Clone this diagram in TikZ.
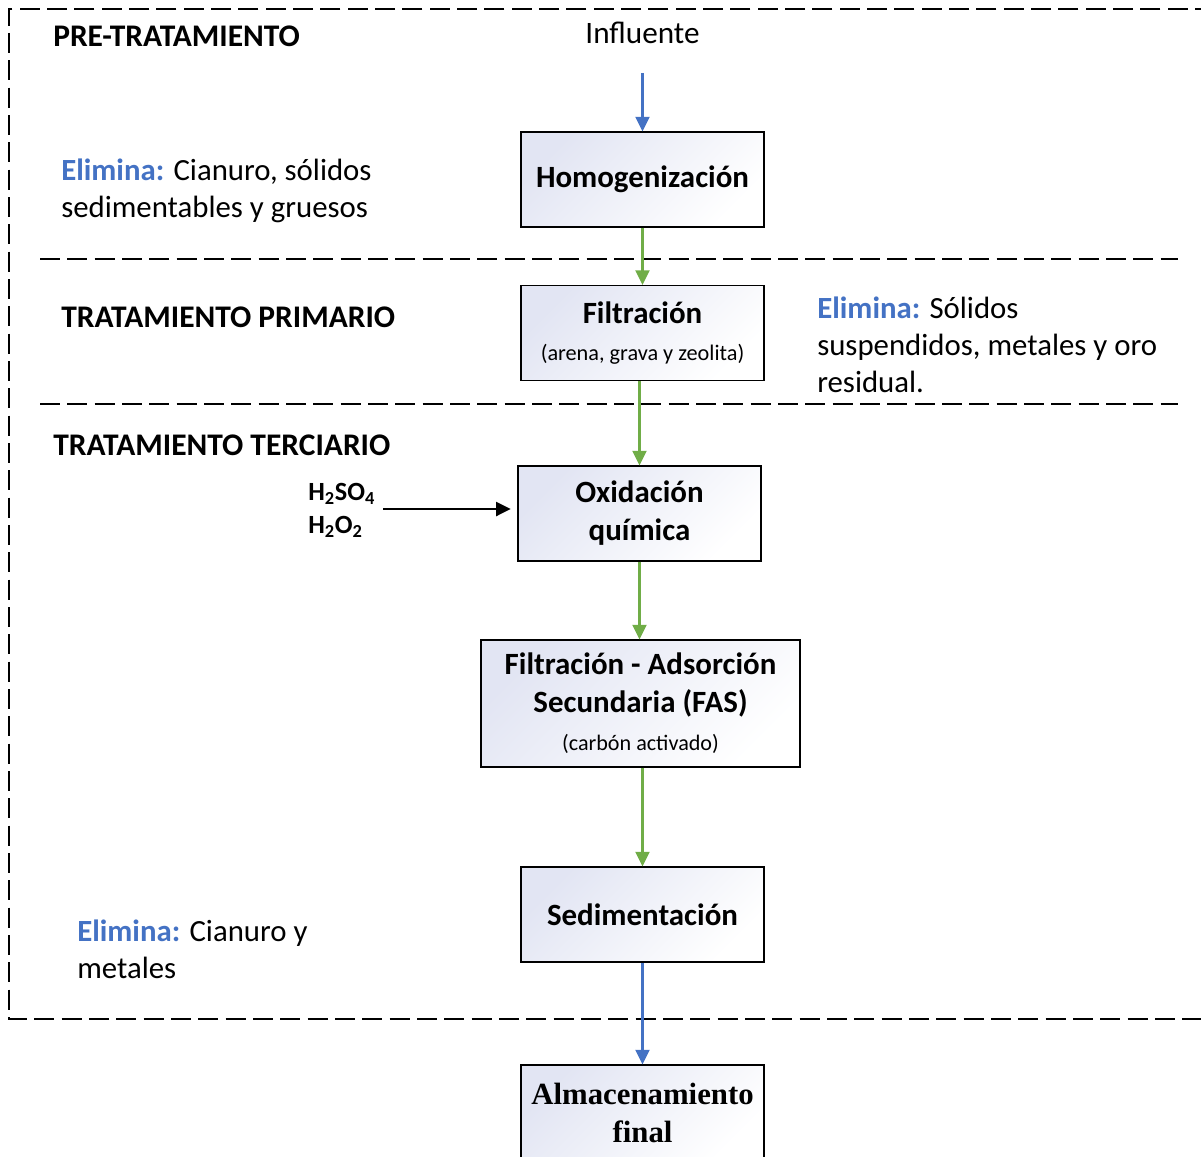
\documentclass[tikz,border=0pt]{standalone}
\usepackage{fontspec}
\setmainfont{Carlito}
\newfontfamily\timesfont{Liberation Serif}
\usetikzlibrary{arrows.meta}
\definecolor{elimblue}{HTML}{4472C4}
\definecolor{flowgreen}{HTML}{70AD47}
\definecolor{boxtint}{HTML}{E2E5F3}

\begin{document}
\begin{tikzpicture}[x=0.75pt,y=-0.75pt,
  stage/.style={draw=black, line width=1.1pt,
    top color=boxtint, bottom color=white, shading angle=45,
    minimum width=182pt, minimum height=71pt, align=center, inner sep=0pt,
    font=\fontsize{23.2}{28.5}\selectfont\bfseries},
  phase/.style={anchor=west, inner sep=0pt, font=\fontsize{23.6}{27}\selectfont\bfseries},
  note/.style={anchor=west, inner sep=0pt, align=left, font=\fontsize{23.1}{27.75}\selectfont},
  zone/.style={line width=1.5pt, dash pattern=on 15pt off 5.5pt},
  flow/.style={line width=1.7pt, -{Triangle[length=11pt,width=10.5pt]}},
  bluef/.style={flow, draw=elimblue, -{Triangle[length=11pt,width=10.5pt,fill=elimblue]}},
  greenf/.style={flow, draw=flowgreen, -{Triangle[length=11pt,width=10.5pt,fill=flowgreen]}}
]
\useasboundingbox (0,0) rectangle (1201,1156);
\begin{scope}
\clip (0,0) rectangle (1201,1156);

% zone frame and separators
\draw[zone] (1215,9) -- (9,9) -- (9,1019) -- (1215,1019);
\draw[zone] (40,259) -- (1178,259);
\draw[zone] (40,404) -- (1178,404);

% phase titles
\node[phase] (pre) at (53,36) {PRE-TRATAMIENTO};
\node[phase] (pri) at (61,317) {TRATAMIENTO PRIMARIO};
\node[phase] (ter) at (53,445) {TRATAMIENTO TERCIARIO};

% removal notes
\node[note] (n1) at (61,190.5) {{\bfseries\color{elimblue}Elimina:} Cianuro, sólidos\\sedimentables y gruesos};
\node[note] (n2) at (817,344.5) {{\bfseries\color{elimblue}Elimina:} Sólidos\\suspendidos, metales y oro\\residual.};
\node[note] (n3) at (77,949) {{\bfseries\color{elimblue}Elimina:} Cianuro y\\metales};

% process stages
\coordinate (in) at (642.5,73);
\node[inner sep=0pt, font=\fontsize{23.4}{27}\selectfont] (inf) at (642.5,33) {Influente};
\node[stage] (hom) at (642.5,179.5) {Homogenización};
\node[stage] (fil) at (642.5,333) {Filtración\\[-1pt]{\fontsize{16.7}{18}\selectfont\mdseries (arena, grava y zeolita)}};
\node[stage] (oxi) at (639.5,513.5) {Oxidación\\química};
\node[stage, minimum width=239pt, minimum height=95pt] (fas) at (640.5,703.5)
  {Filtración - Adsorción\\Secundaria (FAS)\\[0pt]{\fontsize{16.6}{18}\selectfont\mdseries (carbón activado)}};
\node[stage] (sed) at (642.5,914.5) {Sedimentación};
\node[stage, font=\timesfont\fontsize{23.1}{28.5}\selectfont\bfseries] (alm) at (642.5,1112.5) {Almacenamiento\\final};

% reagents
\node[inner sep=0pt, align=left, anchor=west, font=\fontsize{19.7}{24.5}\selectfont\bfseries] (reag) at (308,510.5)
  {H\textsubscript{2}SO\textsubscript{4}\\H\textsubscript{2}O\textsubscript{2}};
\coordinate (reagend) at (383,509);

% connectors
\draw[bluef] (in) -- (hom.north);
\draw[greenf] (hom.south) -- (fil.north);
\draw[greenf] (fil.south -| oxi) -- (oxi.north);
\draw[greenf] (oxi.south) -- (oxi.south |- fas.north);
\draw[greenf] (fas.south -| sed) -- (sed.north);
\draw[bluef] (sed.south) -- (alm.north);
\draw[flow, shorten >=5pt] (reagend) -- (reagend -| oxi.west);
\end{scope}
\end{tikzpicture}
\end{document}
